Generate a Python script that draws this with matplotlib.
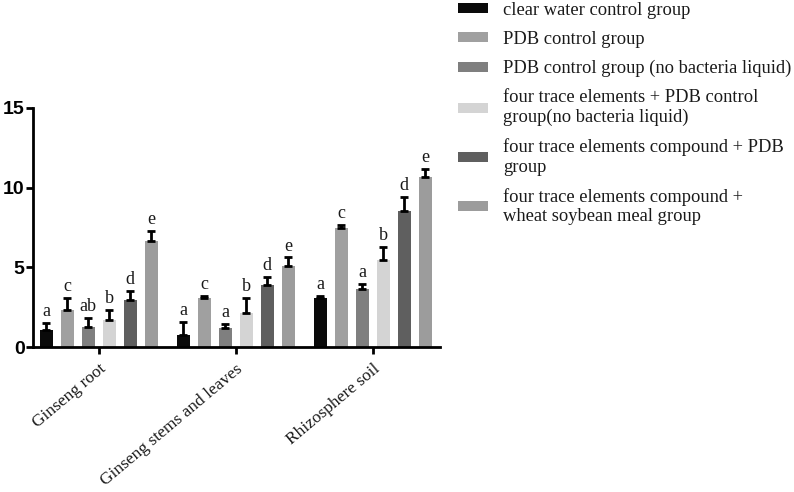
import numpy as np
import matplotlib
matplotlib.use('Agg')
import matplotlib.pyplot as plt

# data
sites = ['Ginseng root', 'Ginseng stems and leaves', 'Rhizosphere soil']
groups = ['clear water control group',
          'PDB control group',
          'PDB control group (no bacteria liquid)',
          'four trace elements + PDB control\ngroup(no bacteria liquid)',
          'four trace elements compound + PDB\ngroup',
          'four trace elements compound +\nwheat soybean meal group']
colors = ['#0a0a0a', '#a0a0a0', '#7f7f7f', '#d4d4d4', '#5f5f5f', '#9c9c9c']

# rows = groups, cols = sites
means = [[1.05, 0.74, 3.10],
         [2.35, 3.10, 7.48],
         [1.26, 1.22, 3.67],
         [1.72, 2.14, 5.45],
         [2.94, 3.92, 8.53],
         [6.65, 5.10, 10.65]]
errs = [[0.45, 0.83, 0.08],
        [0.75, 0.08, 0.15],
        [0.55, 0.20, 0.30],
        [0.63, 0.94, 0.84],
        [0.55, 0.48, 0.90],
        [0.63, 0.52, 0.50]]
letters = [['a', 'a', 'a'],
           ['c', 'c', 'c'],
           ['ab', 'a', 'a'],
           ['b', 'b', 'b'],
           ['d', 'd', 'd'],
           ['e', 'e', 'e']]

serif = 'Liberation Serif'

fig = plt.figure(figsize=(7.94, 4.92), dpi=100)
ax = fig.add_axes([33/794, 1-347/492, (440-33)/794, (347-108)/492])

x = np.arange(len(sites))
pitch = 0.153
width = 0.097
for i, g in enumerate(groups):
    xs = x + (i-2.5)*pitch
    m = np.array(means[i])
    e = np.array(errs[i])
    ax.bar(xs, m, width, color=colors[i], label=g, zorder=2)
    ax.errorbar(xs, m, yerr=[np.zeros_like(e), e], fmt='none', ecolor='black',
                elinewidth=2, capsize=3, capthick=2, zorder=3)
    for xi, mi, ei, lt in zip(xs, m, e, letters[i]):
        ax.annotate(lt, (xi, mi+ei), xytext=(0, 5), textcoords='offset points',
                    ha='center', va='baseline', fontsize=13, family=serif, color='#1a1a1a')

ax.set_xlim(-0.48, 2.49)
ax.set_ylim(0, 15)
ax.set_yticks([0, 5, 10, 15])
ax.set_xticks(x)
ax.set_xticklabels(sites, rotation=40, ha='right', va='top',
                   rotation_mode='anchor', family=serif, fontsize=12.5, color='#1a1a1a')
for lab in ax.get_yticklabels():
    lab.set_family('Liberation Sans')
    lab.set_fontweight('bold')
    lab.set_fontsize(14)
ax.spines['top'].set_visible(False)
ax.spines['right'].set_visible(False)
ax.spines['left'].set_linewidth(2)
ax.spines['bottom'].set_linewidth(2)
ax.tick_params(axis='both', width=2, length=5)
ax.tick_params(axis='y', pad=1)
ax.tick_params(axis='x', pad=5)

leg = ax.legend(loc='upper left', bbox_to_anchor=(458/794, 1-2/492), bbox_transform=fig.transFigure,
                frameon=False, prop={'family': serif, 'size': 13.3}, handlelength=1.65,
                handleheight=0.45, handletextpad=0.8, labelspacing=0.65, borderaxespad=0,
                borderpad=0)
for t in leg.get_texts():
    t.set_color('#1a1a1a')

fig.savefig('out.png', dpi=100)
